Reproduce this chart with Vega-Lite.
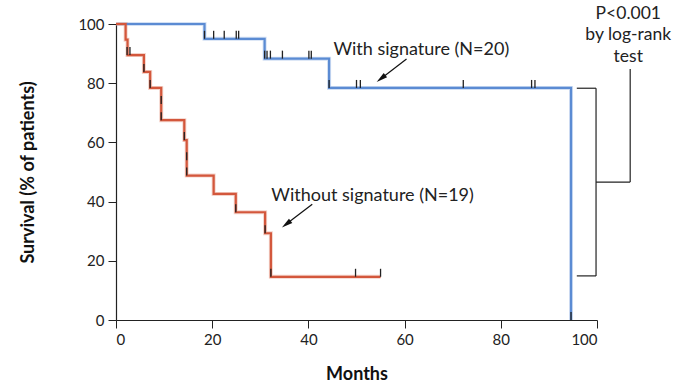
{
  "$schema": "https://vega.github.io/schema/vega-lite/v6.json",
  "width": 481,
  "height": 296,
  "autosize": "none",
  "padding": {"left": 116, "top": 24, "right": 79, "bottom": 64},
  "background": "white",
  "config": {
    "view": {"stroke": null},
    "font": "Lato",
    "axis": {
      "grid": false,
      "domainColor": "#222",
      "domainWidth": 1.2,
      "tickColor": "#222",
      "tickSize": 8,
      "labelColor": "#222",
      "labelFont": "Lato",
      "labelFontSize": 15,
      "titleFont": "Lato",
      "titleFontSize": 18,
      "titleFontWeight": "bold",
      "titleColor": "#111"
    }
  },
  "datasets": {
    "curves": [
      {"group": "with", "month": 0, "surv": 100},
      {"group": "with", "month": 18.4, "surv": 95},
      {"group": "with", "month": 30.9, "surv": 88.3},
      {"group": "with", "month": 44.3, "surv": 78.4},
      {"group": "with", "month": 94.6, "surv": 0},
      {"group": "without", "month": 0, "surv": 100},
      {"group": "without", "month": 2.0, "surv": 94.7},
      {"group": "without", "month": 2.4, "surv": 89.5},
      {"group": "without", "month": 5.8, "surv": 83.8},
      {"group": "without", "month": 7.1, "surv": 78.4},
      {"group": "without", "month": 9.4, "surv": 67.5},
      {"group": "without", "month": 14.2, "surv": 60.8},
      {"group": "without", "month": 14.7, "surv": 48.8},
      {"group": "without", "month": 20.3, "surv": 42.6},
      {"group": "without", "month": 24.9, "surv": 36.4},
      {"group": "without", "month": 31.0, "surv": 29.3},
      {"group": "without", "month": 32.2, "surv": 14.6},
      {"group": "without", "month": 55.0, "surv": 14.6}
    ],
    "censor": [
      {"month": 18.4, "surv": 95}, {"month": 20.3, "surv": 95}, {"month": 22.5, "surv": 95},
      {"month": 25.0, "surv": 95}, {"month": 25.5, "surv": 95},
      {"month": 30.9, "surv": 88.3}, {"month": 31.4, "surv": 88.3}, {"month": 32.1, "surv": 88.3},
      {"month": 34.6, "surv": 88.3}, {"month": 40.1, "surv": 88.3}, {"month": 40.6, "surv": 88.3},
      {"month": 44.3, "surv": 78.4}, {"month": 50.0, "surv": 78.4}, {"month": 50.8, "surv": 78.4},
      {"month": 72.2, "surv": 78.4}, {"month": 86.4, "surv": 78.4}, {"month": 87.1, "surv": 78.4},
      {"month": 94.6, "surv": 0},
      {"month": 2.3, "surv": 89.5}, {"month": 2.9, "surv": 89.5},
      {"month": 5.8, "surv": 83.8}, {"month": 7.1, "surv": 78.4},
      {"month": 9.4, "surv": 73}, {"month": 9.4, "surv": 67.5},
      {"month": 14.2, "surv": 60.8}, {"month": 14.7, "surv": 48.8}, {"month": 14.7, "surv": 54},
      {"month": 24.9, "surv": 36.4}, {"month": 31.0, "surv": 29.3},
      {"month": 32.2, "surv": 14.6}, {"month": 49.8, "surv": 14.6}, {"month": 55.0, "surv": 14.6}
    ],
    "arrows": [
      {"x1": 60.4, "y1": 88.2, "x2": 55.6, "y2": 82.2},
      {"x1": 40.8, "y1": 39.1, "x2": 35.9, "y2": 33.0}
    ],
    "heads": [
      {"month": 55.2, "surv": 81.7},
      {"month": 35.5, "surv": 32.5}
    ],
    "labels": [
      {"month": 45.2, "surv": 91.2, "text": "With signature (N=20)"},
      {"month": 32.3, "surv": 41.9, "text": "Without signature (N=19)"}
    ],
    "bracket": [
      {"x1": 95.8, "y1": 78.3, "x2": 99.8, "y2": 78.3},
      {"x1": 99.8, "y1": 78.3, "x2": 99.8, "y2": 14.9},
      {"x1": 95.8, "y1": 14.9, "x2": 99.8, "y2": 14.9},
      {"x1": 99.8, "y1": 46.6, "x2": 106.9, "y2": 46.6},
      {"x1": 106.9, "y1": 46.6, "x2": 106.9, "y2": 84.8}
    ],
    "ptext": [
      {"month": 106.5, "surv": 103.4, "text": "P<0.001"},
      {"month": 106.5, "surv": 96.3, "text": "by log-rank"},
      {"month": 106.5, "surv": 88.9, "text": "test"}
    ]
  },
  "layer": [
    {
      "data": {"name": "curves"},
      "mark": {"type": "line", "interpolate": "step-after", "strokeWidth": 4, "opacity": 0.35, "clip": false},
      "encoding": {
        "x": {"field": "month", "type": "quantitative", "scale": {"domain": [0, 100], "nice": false},
          "axis": {"title": "Months", "values": [0, 20, 40, 60, 80, 100], "titlePadding": 18, "labelPadding": 4}},
        "y": {"field": "surv", "type": "quantitative", "scale": {"domain": [0, 100], "nice": false},
          "axis": {"title": "Survival (% of patients)", "values": [0, 20, 40, 60, 80, 100], "titlePadding": 40, "labelPadding": 4}},
        "color": {"field": "group", "type": "nominal", "scale": {"domain": ["with", "without"], "range": ["#7ea6e0", "#e08068"]}, "legend": null},
        "detail": {"field": "group"}
      }
    },
    {
      "data": {"name": "curves"},
      "mark": {"type": "line", "interpolate": "step-after", "strokeWidth": 2.2, "clip": false},
      "encoding": {
        "x": {"field": "month", "type": "quantitative", "scale": {"domain": [0, 100], "nice": false}},
        "y": {"field": "surv", "type": "quantitative", "scale": {"domain": [0, 100], "nice": false}},
        "stroke": {"field": "group", "type": "nominal", "scale": {"domain": ["with", "without"], "range": ["#5b8bd3", "#d3573c"]}, "legend": null}
      }
    },
    {
      "data": {"name": "censor"},
      "mark": {"type": "tick", "orient": "vertical", "size": 8, "thickness": 1.3, "color": "#222", "yOffset": -4, "opacity": 1},
      "encoding": {
        "x": {"field": "month", "type": "quantitative", "scale": {"domain": [0, 100], "nice": false}},
        "y": {"field": "surv", "type": "quantitative", "scale": {"domain": [0, 100], "nice": false}}
      }
    },
    {
      "data": {"name": "arrows"},
      "mark": {"type": "rule", "color": "#111", "strokeWidth": 1.2},
      "encoding": {
        "x": {"field": "x1", "type": "quantitative", "scale": {"domain": [0, 100], "nice": false}},
        "y": {"field": "y1", "type": "quantitative", "scale": {"domain": [0, 100], "nice": false}},
        "x2": {"field": "x2"},
        "y2": {"field": "y2"}
      }
    },
    {
      "data": {"name": "heads"},
      "mark": {"type": "point", "shape": "M0,-1L0.45,0.8L-0.45,0.8Z", "size": 150, "filled": true, "color": "#111", "opacity": 1, "angle": 232.5},
      "encoding": {
        "x": {"field": "month", "type": "quantitative", "scale": {"domain": [0, 100], "nice": false}},
        "y": {"field": "surv", "type": "quantitative", "scale": {"domain": [0, 100], "nice": false}}
      }
    },
    {
      "data": {"name": "labels"},
      "mark": {"type": "text", "align": "left", "baseline": "middle", "fontSize": 18, "font": "Lato", "color": "#222"},
      "encoding": {
        "x": {"field": "month", "type": "quantitative", "scale": {"domain": [0, 100], "nice": false}},
        "y": {"field": "surv", "type": "quantitative", "scale": {"domain": [0, 100], "nice": false}},
        "text": {"field": "text"}
      }
    },
    {
      "data": {"name": "bracket"},
      "mark": {"type": "rule", "color": "#222", "strokeWidth": 1.2, "clip": false},
      "encoding": {
        "x": {"field": "x1", "type": "quantitative", "scale": {"domain": [0, 100], "nice": false}},
        "y": {"field": "y1", "type": "quantitative", "scale": {"domain": [0, 100], "nice": false}},
        "x2": {"field": "x2"},
        "y2": {"field": "y2"}
      }
    },
    {
      "data": {"name": "ptext"},
      "mark": {"type": "text", "align": "center", "baseline": "middle", "fontSize": 17.5, "font": "Lato", "color": "#222", "clip": false},
      "encoding": {
        "x": {"field": "month", "type": "quantitative", "scale": {"domain": [0, 100], "nice": false}},
        "y": {"field": "surv", "type": "quantitative", "scale": {"domain": [0, 100], "nice": false}},
        "text": {"field": "text"}
      }
    }
  ]
}
